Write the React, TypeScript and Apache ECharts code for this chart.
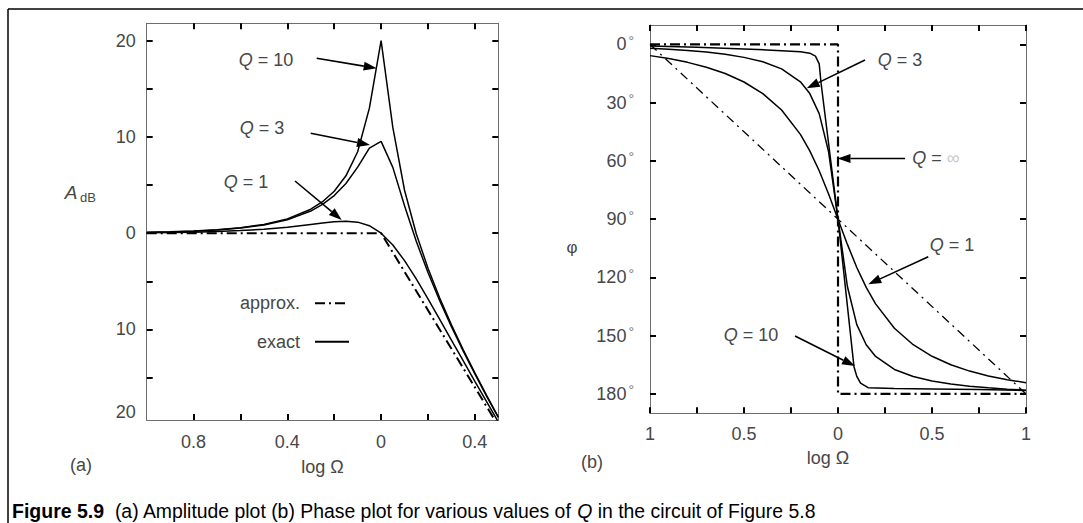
import React, { useEffect, useRef } from "react";
import * as echarts from "echarts";

// ---------- (a) Amplitude plot data ----------
const logOmegaA = [-1, -0.9, -0.8, -0.7, -0.6, -0.5, -0.4, -0.3, -0.25, -0.2, -0.15, -0.1, -0.05, 0, 0.05, 0.1, 0.15, 0.2, 0.25, 0.3, 0.35, 0.4, 0.45, 0.5];
const ampQ1 = [0.04, 0.07, 0.11, 0.17, 0.27, 0.41, 0.62, 0.91, 1.06, 1.19, 1.25, 1.15, 0.78, 0, -1.23, -2.85, -4.75, -6.81, -8.94, -11.1, -13.24, -15.38, -17.49, -19.59];
const ampQ3 = [0.08, 0.13, 0.21, 0.33, 0.53, 0.86, 1.39, 2.3, 2.99, 3.91, 5.16, 6.86, 8.84, 9.54, 6.84, 2.86, -0.84, -4.09, -7.01, -9.7, -12.22, -14.61, -16.91, -19.14];
const ampQ10 = [0.09, 0.14, 0.22, 0.35, 0.56, 0.91, 1.49, 2.49, 3.27, 4.36, 5.96, 8.46, 12.99, 20, 10.99, 4.46, -0.05, -3.64, -6.73, -9.51, -12.08, -14.51, -16.84, -19.09];
const approxAX = [-1, 0, 0.5];
const approxAY = [0, 0, -20];

const xMinA = -1;
const xMaxA = 0.5;
const yMinA = -19.4;
const yMaxA = 21.8;
const xTicksA = [-0.8, -0.6, -0.4, -0.2, 0, 0.2, 0.4];
const xLabelsA = [-0.8, -0.4, 0, 0.4];
const yTicksA = [-15, -10, -5, 0, 5, 10, 15, 20];
const yLabelsA = [20, 10, 0, -10, yMinA];

// ---------- (b) Phase plot data ----------
const logOmegaB = [-1, -0.9, -0.8, -0.7, -0.6, -0.5, -0.4, -0.3, -0.2, -0.15, -0.1, -0.05, 0, 0.05, 0.1, 0.15, 0.2, 0.3, 0.4, 0.5, 0.6, 0.7, 0.8, 0.9, 1];
const phaseQ1 = [-5.77, -7.29, -9.24, -11.74, -15.01, -19.36, -25.32, -33.8, -46.35, -54.83, -65.08, -77.0, -90, -103.0, -114.92, -125.17, -133.65, -146.2, -154.68, -160.64, -164.99, -168.26, -170.76, -172.71, -174.23];
const phaseQ3 = [-1.93, -2.44, -3.1, -3.96, -5.11, -6.68, -8.96, -12.58, -19.26, -25.32, -35.66, -55.3, -90, -124.7, -144.34, -154.68, -160.74, -167.42, -171.04, -173.32, -174.89, -176.04, -176.9, -177.56, -178.07];
const logOmegaB10 = [-1, -0.75, -0.5, -0.3, -0.2, -0.15, -0.12, -0.1, -0.09, 0, 0.085, 0.1, 0.12, 0.16, 0.3, 0.5, 0.75, 1];
const phaseQ10 = [-0.8, -1.5, -2.3, -3.2, -3.8, -4.5, -6, -10, -20, -90, -166, -171, -174.5, -176.8, -177.2, -177.5, -177.8, -178.2];
const idealX = [-1, 0, 0, 1];
const idealY = [0, 0, -180, -180];
const straightX = [-1, 1];
const straightY = [0, -180];

const xMinB = -1;
const xMaxB = 1;
const yMinB = -190;
const yMaxB = 10;
const xLabelsB = [-1, -0.5, 0, 0.5, 1];
const yTicksB = [0, -30, -60, -90, -120, -150, -180];

// ---------- styles ----------
const FONT = '"Liberation Sans", Arial, Helvetica, sans-serif';
const GRAY = "#474747";

const pairs = (xs: number[], ys: number[]) => xs.map((x, i) => [x, ys[i]]);

const axisLine = { show: true, onZero: false, lineStyle: { color: "#6e6e6e", width: 1 } };
const tick = (vals?: number[]) => {
  const t: any = { show: true, inside: true, length: 6, lineStyle: { color: "#000", width: 2 } };
  if (vals) t.customValues = vals;
  return t;
};
const lbl = { color: GRAY, fontSize: 18, fontFamily: FONT };

function arrow(x1: number, y1: number, x2: number, y2: number) {
  const head = 13;
  const half = 4.5;
  const dx = x2 - x1;
  const dy = y2 - y1;
  const L = Math.hypot(dx, dy);
  const ux = dx / L;
  const uy = dy / L;
  const bx = x2 - ux * head;
  const by = y2 - uy * head;
  return [
    { type: "line", silent: true, shape: { x1, y1, x2: bx, y2: by }, style: { stroke: "#000", lineWidth: 1.6 } },
    {
      type: "polygon",
      silent: true,
      shape: { points: [[x2, y2], [bx - uy * half, by + ux * half], [bx + uy * half, by - ux * half]] },
      style: { fill: "#000" },
    },
  ];
}

function qLabel(x: number, y: number, rest: string, infinity = false) {
  const text = infinity ? "{q|Q} = {f|∞}" : "{q|Q} = " + rest;
  return {
    type: "text",
    silent: true,
    x,
    y,
    style: {
      text,
      fill: GRAY,
      fontSize: 18,
      fontFamily: FONT,
      align: "center",
      verticalAlign: "middle",
      rich: {
        q: { fontStyle: "italic", fontSize: 18, fontFamily: FONT, fill: GRAY },
        f: { fontSize: 18, fontFamily: FONT, fill: "#c8c8c8" },
      },
    },
  };
}

function plainText(x: number, y: number, text: string, extra: any = {}) {
  return {
    type: "text",
    silent: true,
    x,
    y,
    style: { text, fill: GRAY, fontSize: 18, fontFamily: FONT, align: "center", verticalAlign: "middle", ...extra },
  };
}

export default function App() {
  const ref = useRef<HTMLDivElement>(null);

  useEffect(() => {
    if (!ref.current) return;
    const chart = echarts.init(ref.current, undefined, { renderer: "svg" });

    const solid = { color: "#000", width: 1.5 };

    const option: any = {
      animation: false,
      backgroundColor: "#fff",
      grid: [
        { left: 146.7, top: 23.3, width: 351.6, height: 396.7 },
        { left: 650, top: 25, width: 376, height: 388.3 },
      ],
      xAxis: [
        {
          gridIndex: 0,
          type: "value",
          min: xMinA,
          max: xMaxA,
          position: "bottom",
          axisLine,
          axisTick: tick(xTicksA),
          axisLabel: { ...lbl, margin: 13, customValues: xLabelsA, formatter: (v: number) => String(Math.abs(Math.round(v * 10) / 10)) },
          splitLine: { show: false },
          name: "log Ω",
          nameLocation: "middle",
          nameGap: 38,
          nameTextStyle: { ...lbl },
        },
        {
          gridIndex: 0,
          type: "value",
          min: xMinA,
          max: xMaxA,
          position: "top",
          axisLine,
          axisTick: tick(xTicksA),
          axisLabel: { show: false },
          splitLine: { show: false },
        },
        {
          gridIndex: 1,
          type: "value",
          min: xMinB,
          max: xMaxB,
          interval: 0.25,
          position: "bottom",
          axisLine,
          axisTick: tick(),
          axisLabel: { ...lbl, margin: 12, customValues: xLabelsB, formatter: (v: number) => String(Math.abs(v)) },
          splitLine: { show: false },
          name: "log Ω",
          nameLocation: "middle",
          nameGap: 36,
          nameTextStyle: { ...lbl, padding: [0, 20, 0, 0] },
        },
        {
          gridIndex: 1,
          type: "value",
          min: xMinB,
          max: xMaxB,
          interval: 0.25,
          position: "top",
          axisLine,
          axisTick: tick(),
          axisLabel: { show: false },
          splitLine: { show: false },
        },
      ],
      yAxis: [
        {
          gridIndex: 0,
          type: "value",
          min: yMinA,
          max: yMaxA,
          position: "left",
          axisLine,
          axisTick: tick(yTicksA),
          axisLabel: {
            ...lbl,
            margin: 11,
            customValues: yLabelsA,
            formatter: (v: number) => {
              const r = Math.abs(Math.round(v / 10) * 10);
              return v === yMinA ? "{lo|" + r + "}" : String(r);
            },
            rich: { lo: { ...lbl, padding: [0, 0, 16, 0] } },
          },
          splitLine: { show: false },
        },
        {
          gridIndex: 0,
          type: "value",
          min: yMinA,
          max: yMaxA,
          position: "right",
          axisLine,
          axisTick: tick(yTicksA),
          axisLabel: { show: false },
          splitLine: { show: false },
        },
        {
          gridIndex: 1,
          type: "value",
          min: yMinB,
          max: yMaxB,
          position: "left",
          axisLine,
          axisTick: tick(yTicksB),
          axisLabel: {
            ...lbl,
            margin: 16,
            customValues: yTicksB,
            formatter: (v: number) => "{n|" + Math.abs(v) + "}{d|°}",
            rich: {
              n: { ...lbl },
              d: { color: "#777", fontSize: 14, fontFamily: FONT, padding: [0, 0, 7, 2] },
            },
          },
          splitLine: { show: false },
        },
        {
          gridIndex: 1,
          type: "value",
          min: yMinB,
          max: yMaxB,
          position: "right",
          axisLine,
          axisTick: tick(yTicksB),
          axisLabel: { show: false },
          splitLine: { show: false },
        },
      ],
      series: [
        { name: "approx.", type: "line", xAxisIndex: 0, yAxisIndex: 0, data: pairs(approxAX, approxAY), symbol: "none", silent: true, lineStyle: { color: "#000", width: 2, type: [10, 4, 2, 4] } },
        { name: "Q = 1", type: "line", xAxisIndex: 0, yAxisIndex: 0, data: pairs(logOmegaA, ampQ1), symbol: "none", silent: true, lineStyle: solid },
        { name: "Q = 3", type: "line", xAxisIndex: 0, yAxisIndex: 0, data: pairs(logOmegaA, ampQ3), symbol: "none", silent: true, lineStyle: solid },
        { name: "Q = 10", type: "line", xAxisIndex: 0, yAxisIndex: 0, data: pairs(logOmegaA, ampQ10), symbol: "none", silent: true, lineStyle: solid },
        { name: "Q = ∞", type: "line", xAxisIndex: 2, yAxisIndex: 2, data: pairs(idealX, idealY), symbol: "none", silent: true, lineStyle: { color: "#000", width: 2.2, type: [10, 4, 2, 4] } },
        { name: "straight-line approx.", type: "line", xAxisIndex: 2, yAxisIndex: 2, data: pairs(straightX, straightY), symbol: "none", silent: true, lineStyle: { color: "#000", width: 1.3, type: [9, 5, 2, 5] } },
        { name: "φ Q = 1", type: "line", xAxisIndex: 2, yAxisIndex: 2, data: pairs(logOmegaB, phaseQ1), symbol: "none", silent: true, lineStyle: solid },
        { name: "φ Q = 3", type: "line", xAxisIndex: 2, yAxisIndex: 2, data: pairs(logOmegaB, phaseQ3), symbol: "none", silent: true, lineStyle: solid },
        { name: "φ Q = 10", type: "line", xAxisIndex: 2, yAxisIndex: 2, data: pairs(logOmegaB10, phaseQ10), symbol: "none", silent: true, lineStyle: solid },
      ],
      graphic: [
        // outer frame
        { type: "line", silent: true, shape: { x1: 8, y1: 9, x2: 1083, y2: 9 }, style: { stroke: "#000", lineWidth: 1.5 } },
        { type: "line", silent: true, shape: { x1: 8, y1: 9, x2: 8, y2: 523 }, style: { stroke: "#000", lineWidth: 1.5 } },
        // (a) annotations
        qLabel(266, 60, "10"),
        ...arrow(316.7, 58.3, 376.7, 68.3),
        qLabel(262, 128.3, "3"),
        ...arrow(310.7, 133.3, 370, 145),
        qLabel(246, 182, "1"),
        ...arrow(295, 181, 341.7, 220),
        // y-axis name A dB
        { type: "text", silent: true, x: 71, y: 192, style: { text: "A", fill: GRAY, fontSize: 19, fontStyle: "italic", fontFamily: FONT, align: "center", verticalAlign: "middle" } },
        { type: "text", silent: true, x: 88, y: 197, style: { text: "dB", fill: GRAY, fontSize: 13, fontFamily: FONT, align: "center", verticalAlign: "middle" } },
        // legend
        plainText(300, 303.3, "approx.", { align: "right" }),
        { type: "line", silent: true, shape: { x1: 315, y1: 303.3, x2: 349, y2: 303.3 }, style: { stroke: "#000", lineWidth: 2, lineDash: [10, 4, 2, 4] } },
        plainText(300, 341.7, "exact", { align: "right" }),
        { type: "line", silent: true, shape: { x1: 315, y1: 341.7, x2: 349, y2: 341.7 }, style: { stroke: "#000", lineWidth: 2 } },
        plainText(81, 465, "(a)"),
        // (b) annotations
        qLabel(900, 60, "3"),
        ...arrow(865, 60, 806.7, 88.3),
        qLabel(936, 157.6, "", true),
        ...arrow(905, 158.5, 837.5, 158.5),
        qLabel(952, 245, "1"),
        ...arrow(928.3, 256.7, 868.3, 284.3),
        qLabel(751, 335, "10"),
        ...arrow(795, 336, 855, 366),
        plainText(572, 247, "φ", { fontSize: 17 }),
        plainText(592, 461.7, "(b)"),
        // caption
        {
          type: "text",
          silent: true,
          x: 12,
          y: 511,
          style: {
            text: "{b|Figure 5.9}{r|  (a) Amplitude plot (b) Phase plot for various values of }{i|Q}{r| in the circuit of Figure 5.8}",
            verticalAlign: "middle",
            align: "left",
            rich: {
              b: { fontWeight: "bold", fontSize: 19.5, fontFamily: FONT, fill: "#000" },
              r: { fontSize: 19.4, fontFamily: FONT, fill: "#000" },
              i: { fontSize: 19.4, fontStyle: "italic", fontFamily: FONT, fill: "#000" },
            },
          },
        },
      ],
    };

    chart.setOption(option);
    return () => chart.dispose();
  }, []);

  return <div ref={ref} style={{ position: "absolute", left: 0, top: 0, width: 1083, height: 523 }} />;
}
